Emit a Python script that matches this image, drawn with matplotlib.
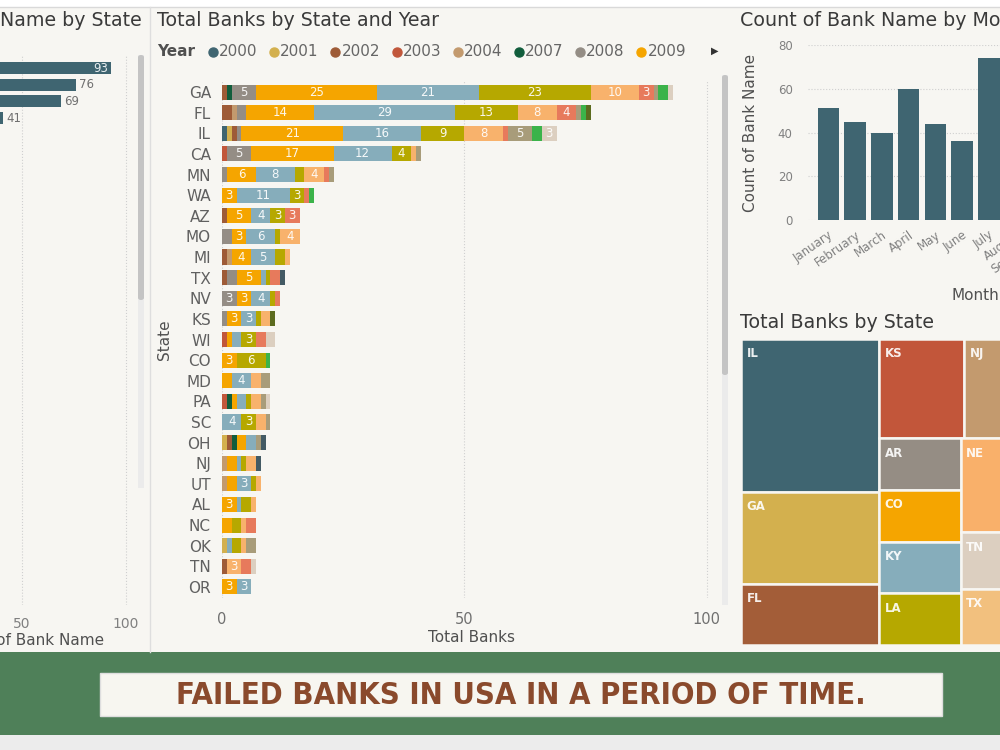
import numpy as np
import matplotlib
matplotlib.use("Agg")
import matplotlib.pyplot as plt
from matplotlib.patches import Rectangle, FancyBboxPatch
from matplotlib.lines import Line2D

# ---- data ----
years = ['2000', '2001', '2002', '2003', '2004', '2007', '2008', '2009', '2010',
         '2011', '2012', '2013', '2014', '2015', '2016', '2017', '2019']
year_colors = ['#3f6571', '#d3b04e', '#9e5b37', '#c1573b', '#c39a6e', '#115d3c',
               '#948d85', '#f5a500', '#86adbb', '#b6a800', '#f8b26c', '#e77a5c',
               '#a89c7a', '#3bb34a', '#dccfc0', '#5c6b1f', '#435a64']

states = ['GA', 'FL', 'IL', 'CA', 'MN', 'WA', 'AZ', 'MO', 'MI', 'TX', 'NV', 'KS', 'WI',
          'CO', 'MD', 'PA', 'SC', 'OH', 'NJ', 'UT', 'AL', 'NC', 'OK', 'TN', 'OR']
# banks per state (rows) and year (columns, same order as years)
banks = [
    [0, 0, 1, 0, 0, 1, 5, 25, 21, 23, 10, 3, 1, 2, 1, 0, 0],
    [0, 0, 2, 0, 1, 0, 2, 14, 29, 13, 8, 4, 1, 1, 0, 1, 0],
    [1, 1, 1, 0, 0, 0, 1, 21, 16, 9, 8, 1, 5, 2, 3, 0, 0],
    [0, 0, 0, 1, 0, 0, 5, 17, 12, 4, 1, 0, 1, 0, 0, 0, 0],
    [0, 0, 0, 0, 0, 0, 1, 6, 8, 2, 4, 1, 1, 0, 0, 0, 0],
    [0, 0, 0, 0, 0, 0, 0, 3, 11, 3, 0, 1, 0, 1, 0, 0, 0],
    [0, 0, 1, 0, 0, 0, 0, 5, 4, 3, 0, 3, 0, 0, 0, 0, 0],
    [0, 0, 0, 0, 0, 0, 2, 3, 6, 1, 4, 0, 0, 0, 0, 0, 0],
    [0, 0, 1, 0, 1, 0, 0, 4, 5, 2, 1, 0, 0, 0, 0, 0, 0],
    [0, 0, 1, 0, 0, 0, 2, 5, 1, 1, 0, 2, 0, 0, 0, 0, 1],
    [0, 0, 0, 0, 0, 0, 3, 3, 4, 1, 0, 1, 0, 0, 0, 0, 0],
    [0, 0, 0, 0, 0, 0, 1, 3, 3, 1, 2, 0, 0, 0, 0, 1, 0],
    [0, 0, 0, 1, 0, 0, 0, 1, 2, 3, 0, 2, 0, 0, 2, 0, 0],
    [0, 0, 0, 0, 0, 0, 0, 3, 0, 6, 0, 0, 0, 1, 0, 0, 0],
    [0, 0, 0, 0, 0, 0, 0, 2, 4, 0, 2, 0, 2, 0, 0, 0, 0],
    [0, 0, 0, 1, 0, 1, 0, 1, 2, 1, 2, 0, 1, 0, 1, 0, 0],
    [0, 0, 0, 0, 0, 0, 0, 0, 4, 3, 2, 0, 1, 0, 0, 0, 0],
    [0, 1, 1, 0, 0, 1, 0, 2, 2, 0, 0, 0, 1, 0, 0, 0, 1],
    [0, 0, 0, 0, 1, 0, 0, 2, 1, 1, 2, 0, 0, 0, 0, 0, 1],
    [0, 0, 0, 0, 1, 0, 0, 2, 3, 1, 1, 0, 0, 0, 0, 0, 0],
    [0, 0, 0, 0, 0, 0, 0, 3, 1, 2, 1, 0, 0, 0, 0, 0, 0],
    [0, 0, 0, 0, 0, 0, 0, 2, 0, 2, 1, 2, 0, 0, 0, 0, 0],
    [0, 1, 0, 0, 0, 0, 0, 0, 1, 2, 1, 0, 2, 0, 0, 0, 0],
    [0, 0, 1, 0, 0, 0, 0, 0, 0, 0, 3, 2, 0, 0, 1, 0, 0],
    [0, 0, 0, 0, 0, 0, 0, 3, 3, 0, 0, 0, 0, 0, 0, 0, 0],
]

left_states = ['GA', 'FL', 'IL', 'CA']
left_counts = [93, 76, 69, 41]

months = ['January', 'February', 'March', 'April', 'May', 'June', 'July',
          'August', 'September']
month_counts = [51, 45, 40, 60, 44, 36, 74]

tm_states = ['IL', 'GA', 'FL', 'KS', 'NJ', 'AR', 'CO', 'KY', 'LA', 'NE', 'TN', 'TX']
tm_values = [20, 12, 8, 8, 5, 4, 4, 4, 4, 5, 3, 3]
tm_colors = ['#3f6571', '#d3b04e', '#a35d38', '#c2563a', '#c39a6e', '#958d84',
             '#f5a500', '#86adbb', '#b6a800', '#f9b06a', '#dccfc0', '#f2c07e']

# ---- layout helpers ----
BG = '#f7f6f2'
W, H = 1000, 750
fig = plt.figure(figsize=(10, 7.5), dpi=100, facecolor=BG)


def px_axes(l, t, r, b):
    ax = fig.add_axes([l / W, 1 - b / H, (r - l) / W, (b - t) / H])
    ax.set_facecolor('none')
    return ax


def px_rect(x0, y0, x1, y1, **kw):
    fig.add_artist(Rectangle((x0 / W, 1 - y1 / H), (x1 - x0) / W, (y1 - y0) / H,
                             transform=fig.transFigure, **kw))


def px_text(x, y, s, **kw):
    fig.text(x / W, 1 - y / H, s, **kw)


def scrollbar(x, y0, y1, y2):
    px_rect(x, y0, x + 6, y2, color='#ebebeb', lw=0)
    fig.add_artist(FancyBboxPatch((x / W, 1 - y1 / H), 6 / W, (y1 - y0) / H,
                                  boxstyle='round,pad=0,rounding_size=0.003',
                                  transform=fig.transFigure, color='#c4c4c4', lw=0))


TITLE = dict(fontsize=13.7, color='#3a3a3a', va='center')
GRAY = '#707070'

# background pieces
px_rect(0, 0, 1000, 7, color='white', lw=0)
fig.add_artist(Line2D([0, 1], [1 - 7 / H, 1 - 7 / H], color='#d9d9d9', lw=1,
                      transform=fig.transFigure))
fig.add_artist(Line2D([150 / W, 150 / W], [1 - 7 / H, 1 - 652 / H], color='#dedede',
                      lw=1, transform=fig.transFigure))

# ---- left panel: Count of Bank Name by State (cut off) ----
axl = px_axes(-86, 55, 137, 605)
yl = np.arange(len(left_states))
axl.barh(yl, left_counts, height=0.72, color='#3f6571')
for yi, v in zip(yl, left_counts):
    if v > 90:
        axl.text(v - 1.5, yi, str(v), ha='right', va='center', fontsize=8.5, color='#e8eef0')
    else:
        axl.text(v + 1.5, yi, str(v), ha='left', va='center', fontsize=8.5, color=GRAY)
axl.set_xlim(-1.9, 105.3)
axl.set_ylim(32.2, -0.78)
axl.set_yticks(yl, left_states)
axl.set_xticks([0, 50, 100])
axl.tick_params(length=0, labelsize=10, labelcolor='#808080', pad=9)
axl.grid(axis='x', linestyle=':', color='#cfcfcf', lw=0.8)
axl.set_axisbelow(True)
for s in axl.spines.values():
    s.set_visible(False)
axl.set_xlabel('Count of Bank Name', fontsize=11, color='#505050', labelpad=1)
px_text(142, 20, 'Count of Bank Name by State', ha='right', **TITLE)
scrollbar(138, 55, 300, 488)

# ---- middle panel: Total Banks by State and Year ----
axm = px_axes(222, 81, 720, 598)
vals = np.array(banks, dtype=float)
ym = np.arange(len(states))
left = np.zeros(len(states))
for j, yr in enumerate(years):
    col = vals[:, j]
    axm.barh(ym, col, left=left, height=0.73, color=year_colors[j], lw=0)
    for yi, v, l0 in zip(ym, col, left):
        if v >= 3:
            axm.text(l0 + v / 2, yi, f'{int(v)}', ha='center', va='center',
                     fontsize=8.5, color='white', alpha=0.92)
    left += col
axm.set_xlim(0, 102.7)
axm.set_ylim(24.537, -0.537)
axm.set_yticks(ym, states)
axm.set_xticks([0, 50, 100])
axm.tick_params(axis='y', length=0, labelsize=11, labelcolor='#606060', pad=8)
axm.tick_params(axis='x', length=0, labelsize=10.5, labelcolor='#707070', pad=10)
axm.grid(axis='x', linestyle=':', color='#d0d0d0', lw=0.8)
axm.set_axisbelow(True)
for s in axm.spines.values():
    s.set_visible(False)
axm.set_xlabel('Total Banks', fontsize=11, color='#505050', labelpad=2)
px_text(165, 340, 'State', rotation=90, ha='center', va='center', fontsize=11,
        color='#505050')
px_text(157, 20, 'Total Banks by State and Year', ha='left', **TITLE)

# legend
px_text(157, 52, 'Year', ha='left', va='center', fontsize=11, fontweight='bold',
        color='#505050')
for i in range(8):
    xd = 213 + 61.2 * i
    fig.add_artist(Line2D([xd / W], [1 - 52 / H], marker='o', ms=6.5, lw=0,
                          color=year_colors[i], transform=fig.transFigure))
    px_text(xd + 6, 52, years[i], ha='left', va='center', fontsize=11, color='#666666')
px_text(715, 51, '\u25b6', ha='center', va='center', fontsize=7, color='#333333')
scrollbar(722, 75, 375, 605)

# ---- right top: Count of Bank Name by Month ----
axr = px_axes(808, 45, 1143, 220)
xr = np.arange(len(month_counts))
axr.bar(xr, month_counts, width=0.8, color='#3f6571')
axr.set_ylim(0, 80)
axr.set_xlim(-0.761, 11.76)
axr.set_yticks([0, 20, 40, 60, 80])
axr.set_xticks(np.arange(len(months)), months, rotation=35, ha='right',
               rotation_mode='anchor')
axr.tick_params(axis='y', length=0, labelsize=8.5, labelcolor='#808080', pad=11)
axr.tick_params(axis='x', length=0, labelsize=8.5, labelcolor='#808080', pad=6)
axr.grid(axis='y', linestyle=':', color='#cfcfcf', lw=0.8)
axr.set_axisbelow(True)
for s in axr.spines.values():
    s.set_visible(False)
axr.set_xlabel('Month', fontsize=11, color='#505050')
axr.xaxis.set_label_coords(0.5, -0.39)
axr.set_ylabel('Count of Bank Name', fontsize=11, color='#505050', labelpad=14)
px_text(740, 20, 'Count of Bank Name by Month', ha='left', **TITLE)

# ---- right bottom: treemap Total Banks by State ----
layout = ('h', [('v', [0, 1, 2]),
                ('v', [('h', [3, 4]),
                       ('h', [('v', [5, 6, 7, 8]), ('v', [9, 10, 11])])])])


def node_total(node):
    if isinstance(node, int):
        return tm_values[node]
    return sum(node_total(k) for k in node[1])


def place(node, x, y, w, h, out):
    if isinstance(node, int):
        out[node] = (x, y, w, h)
        return
    d, kids = node
    s = node_total(node)
    pos = 0.0
    for k in kids:
        f = node_total(k) / s
        if d == 'h':
            place(k, x + pos * w, y, f * w, h, out)
        else:
            place(k, x, y + pos * h, w, f * h, out)
        pos += f


rects = {}
place(layout, 0, 0, 1, 1, rects)
axt = px_axes(741, 339, 1017, 645)
axt.set_xlim(0, 1)
axt.set_ylim(1, 0)
axt.axis('off')
for i, st in enumerate(tm_states):
    x, y, w, h = rects[i]
    axt.add_patch(Rectangle((x, y), w, h, facecolor=tm_colors[i], edgecolor=BG, lw=1.8))
    axt.annotate(st, (x, y), xytext=(4, -6), textcoords='offset points', ha='left',
                 va='top', fontsize=8.5, fontweight='bold', color='white', alpha=0.9)
px_text(740, 323, 'Total Banks by State', ha='left', **TITLE)

# ---- banner ----
px_rect(0, 652, 1000, 735, color='#4f8059', lw=0)
px_rect(0, 735, 1000, 750, color='#ececec', lw=0)
px_rect(100, 673, 942, 716, facecolor='#f7f6f0', edgecolor='#dedede', lw=1)
px_text(521, 695, 'FAILED BANKS IN USA IN A PERIOD OF TIME.', ha='center', va='center',
        fontsize=22.2, fontweight='bold', color='#8a4a2c',
        family=['Liberation Sans Narrow', 'DejaVu Sans'], fontstretch='condensed')

fig.savefig('out.png', dpi=100, facecolor=BG)
